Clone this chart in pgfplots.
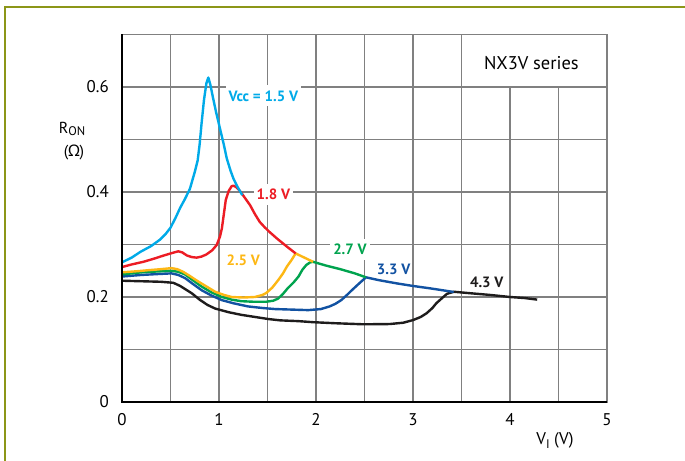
\documentclass[border=0pt]{standalone}
\usepackage{fontspec}
\setmainfont{PT Sans}
\newfontfamily\greekfont{Noto Sans}
\usepackage{pgfplots}
\pgfplotsset{compat=1.18}
\definecolor{vcyan}{RGB}{0,170,232}
\definecolor{vred}{RGB}{236,28,36}
\definecolor{vyellow}{RGB}{253,183,20}
\definecolor{vgreen}{RGB}{0,163,78}
\definecolor{vblue}{RGB}{18,82,162}
\definecolor{vblack}{RGB}{30,28,28}
\definecolor{gridgray}{RGB}{128,128,128}
\definecolor{frameolive}{RGB}{140,150,24}

\begin{document}
\begin{tikzpicture}[x=1bp,y=1bp]
\useasboundingbox (-122,-59) rectangle (563,402);
\draw[frameolive, line width=1.6bp] (-117,-90) -- (-117,395) -- (620,395);
\begin{axis}[at={(0,0)}, anchor=south west, scale only axis,
    width=485bp, height=367.5bp,
    xmin=0, xmax=5, ymin=0, ymax=0.7,
    xtick={0,1,2,3,4,5}, minor xtick={0.5,1.5,2.5,3.5,4.5},
    ytick={0,0.2,0.4,0.6}, minor ytick={0.1,0.3,0.5},
    yticklabels={0,0.2,0.4,0.6},
    grid=both,
    grid style={gridgray, line width=1.3bp},
    minor grid style={gridgray, line width=1.3bp},
    major tick length=0, minor tick length=0,
    axis line style={gridgray, line width=1.3bp},
    /pgf/number format/assume math mode=true,
    ticklabel style={font=\fontsize{17}{17}\selectfont, inner sep=0pt},
    yticklabel style={xshift=-13bp},
    xticklabel style={yshift=-11bp},
    clip=false,
    every axis plot/.append style={line width=2.4bp, line join=round, mark=none}]

% white box behind the series title
\fill[white] (3.508,0.6016) rectangle (4.992,0.6984);
\node[font=\fontsize{18.5}{18.5}\selectfont] at (4.22,0.646) {NX3V series};

\addplot[vblack] coordinates {(0,0.231)(0.2,0.230)(0.4,0.229)(0.53,0.227)(0.6,0.221)(0.66,0.214)(0.72,0.207)(0.8,0.195)(0.88,0.185)(0.96,0.178)(1.1,0.171)(1.23,0.166)(1.37,0.162)(1.51,0.158)(1.63,0.1555)(1.82,0.154)(1.97,0.152)(2.2,0.150)(2.49,0.148)(2.76,0.1485)(2.9,0.151)(3.0,0.156)(3.08,0.162)(3.14,0.169)(3.2,0.179)(3.24,0.188)(3.3,0.198)(3.35,0.206)(3.42,0.210)(3.6,0.207)(3.79,0.204)(4.0,0.200)(4.15,0.198)(4.28,0.195)};
\addplot[vblue] coordinates {(0,0.239)(0.2,0.242)(0.4,0.244)(0.51,0.245)(0.58,0.242)(0.65,0.236)(0.73,0.225)(0.82,0.213)(0.92,0.203)(1.03,0.194)(1.15,0.188)(1.3,0.182)(1.45,0.179)(1.58,0.177)(1.75,0.176)(1.92,0.175)(2.05,0.177)(2.14,0.182)(2.2,0.187)(2.26,0.194)(2.32,0.204)(2.37,0.213)(2.44,0.225)(2.515,0.2375)(2.65,0.232)(2.83,0.226)(3.0,0.221)(3.175,0.2165)(3.3,0.213)(3.42,0.2095)};
\addplot[vgreen] coordinates {(0,0.243)(0.2,0.247)(0.4,0.249)(0.51,0.250)(0.58,0.248)(0.65,0.243)(0.73,0.232)(0.82,0.220)(0.92,0.209)(1.03,0.200)(1.13,0.195)(1.23,0.192)(1.35,0.191)(1.49,0.191)(1.56,0.193)(1.61,0.197)(1.66,0.206)(1.71,0.217)(1.77,0.228)(1.82,0.239)(1.86,0.252)(1.9,0.261)(1.94,0.266)(1.97,0.267)(2.1,0.260)(2.25,0.253)(2.4,0.245)(2.515,0.2375)};
\addplot[vyellow] coordinates {(0,0.247)(0.15,0.249)(0.27,0.251)(0.4,0.253)(0.51,0.255)(0.57,0.253)(0.63,0.248)(0.7,0.240)(0.79,0.229)(0.88,0.219)(0.96,0.210)(1.05,0.204)(1.13,0.200)(1.25,0.199)(1.37,0.200)(1.45,0.204)(1.49,0.208)(1.55,0.218)(1.61,0.232)(1.66,0.245)(1.7,0.258)(1.75,0.271)(1.79,0.283)(1.88,0.275)(1.97,0.267)};
\addplot[vred] coordinates {(0,0.257)(0.1,0.262)(0.22,0.267)(0.33,0.273)(0.43,0.279)(0.52,0.284)(0.58,0.287)(0.62,0.285)(0.67,0.279)(0.72,0.276)(0.77,0.275)(0.82,0.277)(0.87,0.281)(0.93,0.289)(0.976,0.299)(1.01,0.315)(1.03,0.331)(1.05,0.358)(1.07,0.385)(1.1,0.402)(1.13,0.411)(1.15,0.412)(1.18,0.409)(1.22,0.401)(1.27,0.388)(1.32,0.375)(1.37,0.358)(1.42,0.343)(1.47,0.333)(1.52,0.324)(1.6,0.311)(1.7,0.296)(1.79,0.283)};
\addplot[vcyan] coordinates {(0,0.266)(0.1,0.275)(0.19,0.286)(0.3,0.297)(0.39,0.309)(0.45,0.320)(0.5,0.332)(0.55,0.350)(0.6,0.370)(0.65,0.387)(0.7,0.406)(0.75,0.438)(0.78,0.460)(0.8,0.490)(0.82,0.530)(0.845,0.575)(0.87,0.607)(0.89,0.618)(0.91,0.605)(0.94,0.578)(0.97,0.552)(1.01,0.521)(1.05,0.490)(1.08,0.464)(1.12,0.440)(1.15,0.425)(1.19,0.410)(1.24,0.394)};

% curve labels
\begin{scope}[every node/.style={font=\fontsize{15}{15}\selectfont\bfseries, fill=white, inner xsep=3bp, inner ysep=5bp}]
\node[text=vcyan] at (1.457,0.583) {Vcc = 1.5 V};
\node[text=vred] at (1.56,0.396) {1.8 V};
\node[text=vyellow, fill=none] at (1.25,0.270) {2.5 V};
\node[text=vgreen] at (2.35,0.291) {2.7 V};
\node[text=vblue, fill=none] at (2.80,0.253) {3.3 V};
\node[text=vblack, fill=none] at (3.76,0.228) {4.3 V};
\end{scope}

% heavy left and bottom axis lines
\draw[black, line width=2.6bp] (0,0.7) -- (0,0) -- (5,0);
\end{axis}
\node[font=\fontsize{16}{16}\selectfont] at (-50,273) {R\raisebox{-2.5bp}{\fontsize{12.5}{12.5}\selectfont ON}};
\node[font=\fontsize{16}{16}\selectfont] at (-48,250) {({\greekfont Ω})};
\node[font=\fontsize{17}{17}\selectfont] at (433,-38) {V\raisebox{-4bp}{\fontsize{12.5}{12.5}\selectfont I} (V)};
\end{tikzpicture}
\end{document}
